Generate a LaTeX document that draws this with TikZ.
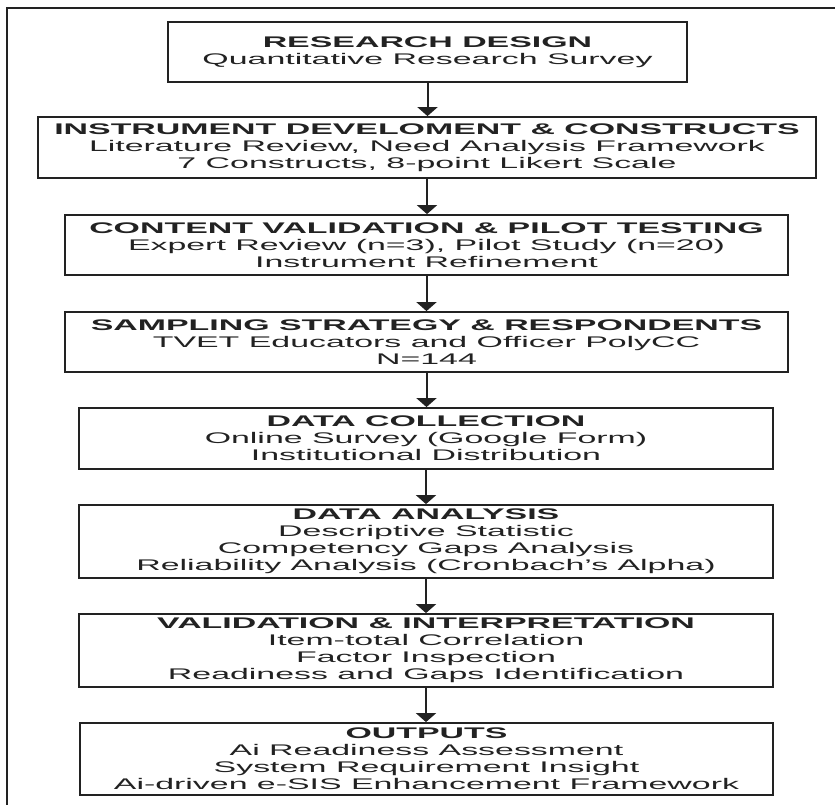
\documentclass[tikz,border=0pt]{standalone}
\usepackage{fontspec}
\setmainfont{Liberation Sans}[FakeStretch=2.2]
\usetikzlibrary{arrows.meta}
\definecolor{ink}{HTML}{222222}
\tikzset{
  stepbox/.style={draw=ink, line width=1.8pt, inner sep=0pt, align=center,
    text=ink, font=\fontsize{15.4}{17}\selectfont},
  flowarrow/.style={draw=ink, line width=2pt, -{Triangle[width=20pt,length=9pt]}},
  frameline/.style={draw=ink, line width=1.4pt}
}
\begin{document}
\begin{tikzpicture}[x=1pt,y=-1pt]
\useasboundingbox (0,0) rectangle (835,805);
\draw[frameline] (7,805) -- (7,8) -- (835,8);

\node[stepbox, minimum width=519pt, minimum height=60pt] (b1) at (427.5,52)
  {\textbf{RESEARCH DESIGN}\\Quantitative Research Survey};
\node[stepbox, minimum width=778pt, minimum height=61pt] (b2) at (427,147.5)
  {\textbf{INSTRUMENT DEVELOMENT \& CONSTRUCTS}\\Literature Review, Need Analysis Framework\\7 Constructs, 8-point Likert Scale};
\node[stepbox, minimum width=723pt, minimum height=60pt] (b3) at (426.5,245)
  {\textbf{CONTENT VALIDATION \& PILOT TESTING}\\Expert Review (n=3), Pilot Study (n=20)\\Instrument Refinement};
\node[stepbox, minimum width=723pt, minimum height=60pt] (b4) at (426.5,342)
  {\textbf{SAMPLING STRATEGY \& RESPONDENTS}\\TVET Educators and Officer PolyCC\\N=144};
\node[stepbox, minimum width=694pt, minimum height=61pt] (b5) at (426,438.5)
  {\textbf{DATA COLLECTION}\\Online Survey (Google Form)\\Institutional Distribution};
\node[stepbox, minimum width=694pt, minimum height=73pt] (b6) at (426,541.5)
  {\textbf{DATA ANALYSIS}\\Descriptive Statistic\\Competency Gaps Analysis\\Reliability Analysis (Cronbach{\char"27}s Alpha)};
\node[stepbox, minimum width=694pt, minimum height=73pt] (b7) at (426,650.5)
  {\textbf{VALIDATION \& INTERPRETATION}\\Item-total Correlation\\Factor Inspection\\Readiness and Gaps Identification};
\node[stepbox, minimum width=693pt, minimum height=72pt] (b8) at (426.5,759)
  {\textbf{OUTPUTS}\\Ai Readiness Assessment\\System Requirement Insight\\Ai-driven e-SIS Enhancement Framework};

\foreach \a/\b in {b1/b2,b2/b3,b3/b4,b4/b5,b5/b6,b6/b7,b7/b8}
  \draw[flowarrow] (\a.south) -- (\a.south |- \b.north);
\end{tikzpicture}
\end{document}
